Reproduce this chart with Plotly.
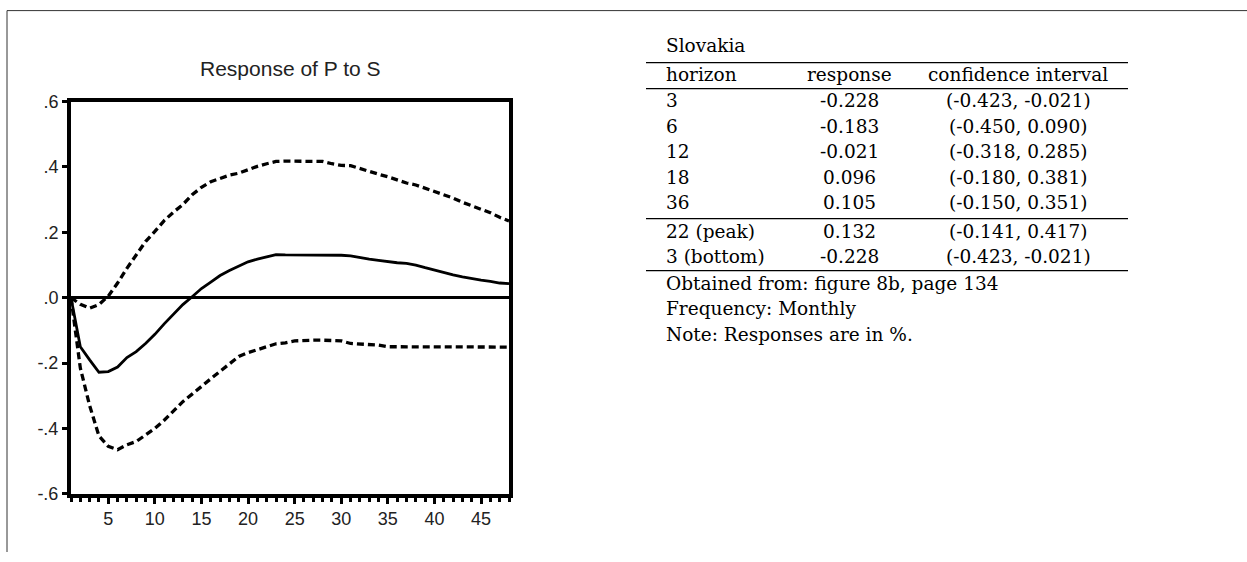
import plotly.graph_objects as go

W, H = 1247, 562

# impulse response of P to S, periods 1..48
periods = list(range(1, 49))
response = [0.000, -0.150, -0.190, -0.228, -0.226, -0.212, -0.183, -0.165, -0.140, -0.112,
            -0.080, -0.050, -0.021, 0.003, 0.028, 0.048, 0.068, 0.083, 0.096, 0.110,
            0.118, 0.126, 0.132, 0.131, 0.131, 0.131, 0.131, 0.130, 0.130, 0.130,
            0.128, 0.122, 0.118, 0.114, 0.110, 0.107, 0.105, 0.100, 0.092, 0.084,
            0.076, 0.070, 0.064, 0.058, 0.054, 0.050, 0.045, 0.043]
upper = [0.000, -0.020, -0.032, -0.021, 0.005, 0.045, 0.090, 0.130, 0.172, 0.203,
         0.236, 0.262, 0.285, 0.315, 0.338, 0.355, 0.366, 0.375, 0.381, 0.392,
         0.402, 0.410, 0.417, 0.418, 0.418, 0.418, 0.418, 0.417, 0.410, 0.405,
         0.404, 0.395, 0.385, 0.378, 0.370, 0.360, 0.351, 0.345, 0.335, 0.325,
         0.315, 0.305, 0.292, 0.282, 0.272, 0.260, 0.246, 0.235]
lower = [0.000, -0.215, -0.330, -0.423, -0.455, -0.465, -0.450, -0.440, -0.420, -0.400,
         -0.375, -0.348, -0.318, -0.295, -0.270, -0.248, -0.225, -0.203, -0.180, -0.168,
         -0.160, -0.150, -0.141, -0.138, -0.132, -0.130, -0.130, -0.130, -0.130, -0.132,
         -0.140, -0.142, -0.143, -0.145, -0.150, -0.150, -0.150, -0.151, -0.151, -0.151,
         -0.151, -0.151, -0.151, -0.151, -0.151, -0.151, -0.151, -0.151]

y_ticks = [0.6, 0.4, 0.2, 0.0, -0.2, -0.4, -0.6]
y_labels = [".6", ".4", ".2", ".0", "-.2", "-.4", "-.6"]
x_ticks = [5, 10, 15, 20, 25, 30, 35, 40, 45]

# table beside the chart
country = "Slovakia"
header = ["horizon", "response", "confidence interval"]
horizons = ["3", "6", "12", "18", "36", "22 (peak)", "3 (bottom)"]
responses = ["-0.228", "-0.183", "-0.021", "0.096", "0.105", "0.132", "-0.228"]
intervals = ["(-0.423, -0.021)", "(-0.450, 0.090)", "(-0.318, 0.285)", "(-0.180, 0.381)",
             "(-0.150, 0.351)", "(-0.141, 0.417)", "(-0.423, -0.021)"]
notes = ["Obtained from: figure 8b, page 134", "Frequency: Monthly", "Note: Responses are in %."]


def px(x):
    return x / W


def py(y):
    # the screenshot comes back a little squeezed vertically, so compensate
    return 1 - ((y - 9.4) / 0.964) / H


fig = go.Figure()
fig.add_trace(go.Scatter(x=periods, y=upper, mode="lines",
                         line=dict(color="black", width=3.3, dash="7px,4px")))
fig.add_trace(go.Scatter(x=periods, y=lower, mode="lines",
                         line=dict(color="black", width=3.3, dash="7px,4px")))
fig.add_trace(go.Scatter(x=periods, y=response, mode="lines",
                         line=dict(color="black", width=2.8)))

sans = "Liberation Sans, Arial, sans-serif"
serif = "DejaVu Serif, serif"

fig.update_layout(
    width=W, height=H, margin=dict(l=0, r=0, t=0, b=0),
    paper_bgcolor="white", plot_bgcolor="white", showlegend=False,
    font=dict(family=sans, size=18, color="#222"),
)
fig.update_xaxes(
    domain=[px(71), px(509)], range=[1, 48], showgrid=False, zeroline=False,
    showline=True, linecolor="black", linewidth=4, mirror=True,
    tickmode="array", tickvals=x_ticks, ticks="outside", ticklen=6, tickwidth=3,
    tickcolor="black", tickfont=dict(family=sans, size=18, color="#222"),
    minor=dict(tickmode="linear", tick0=1, dtick=1, ticks="outside", ticklen=4,
               tickwidth=3, tickcolor="black"),
)
fig.update_yaxes(
    domain=[py(493), py(101)], range=[-0.6, 0.6], showgrid=False,
    zeroline=True, zerolinecolor="black", zerolinewidth=3,
    showline=True, linecolor="black", linewidth=4, mirror=True,
    tickmode="array", tickvals=y_ticks, ticktext=y_labels, ticks="outside",
    ticklen=5, tickwidth=3, tickcolor="black",
    tickfont=dict(family=sans, size=18, color="#222"),
)

ann = []
shapes = []

# chart title
ann.append(dict(x=px(290), y=py(68), xref="paper", yref="paper", text="Response of P to S",
                showarrow=False, font=dict(family=sans, size=21, color="#222"),
                xanchor="center", yanchor="middle"))

# page frame lines
shapes.append(dict(type="line", xref="paper", yref="paper", x0=px(7), x1=1, y0=py(10), y1=py(10),
                   line=dict(color="#333", width=1)))
shapes.append(dict(type="line", xref="paper", yref="paper", x0=px(7), x1=px(7), y0=py(10), y1=0,
                   line=dict(color="#333", width=1)))

tfont = dict(family=serif, size=18.5, color="black")
x_left, x_resp, x_ci = 664, 849, 1018


def text(x, y, s, anchor):
    ann.append(dict(x=px(x), y=py(y), xref="paper", yref="paper", text=s, showarrow=False,
                    font=tfont, xanchor=anchor, yanchor="middle"))


text(x_left, 45, country, "left")
text(x_left, 74, header[0], "left")
text(x_resp, 74, header[1], "center")
text(x_ci, 74, header[2], "center")

row_y = [100, 126, 151, 177, 202, 231, 256]
for yy, hz, r, ci in zip(row_y, horizons, responses, intervals):
    text(x_left, yy, hz, "left")
    text(x_resp, yy, r, "center")
    text(x_ci, yy, ci, "center")

for yy, n in zip([283, 308, 334], notes):
    text(x_left, yy, n, "left")

for yy in [62, 88, 218, 270]:
    shapes.append(dict(type="line", xref="paper", yref="paper", x0=px(646), x1=px(1128),
                       y0=py(yy), y1=py(yy), line=dict(color="black", width=1.2)))

fig.update_layout(annotations=ann, shapes=shapes)

# pin the plot to the window corner so page margins do not move it
pin = ("document.body.style.margin='0px';"
       "var gd=document.getElementById('{plot_id}');"
       "gd.style.position='fixed';gd.style.top='0px';gd.style.left='0px';")
fig.write_html("out.html", config={"displayModeBar": False}, post_script=pin)
